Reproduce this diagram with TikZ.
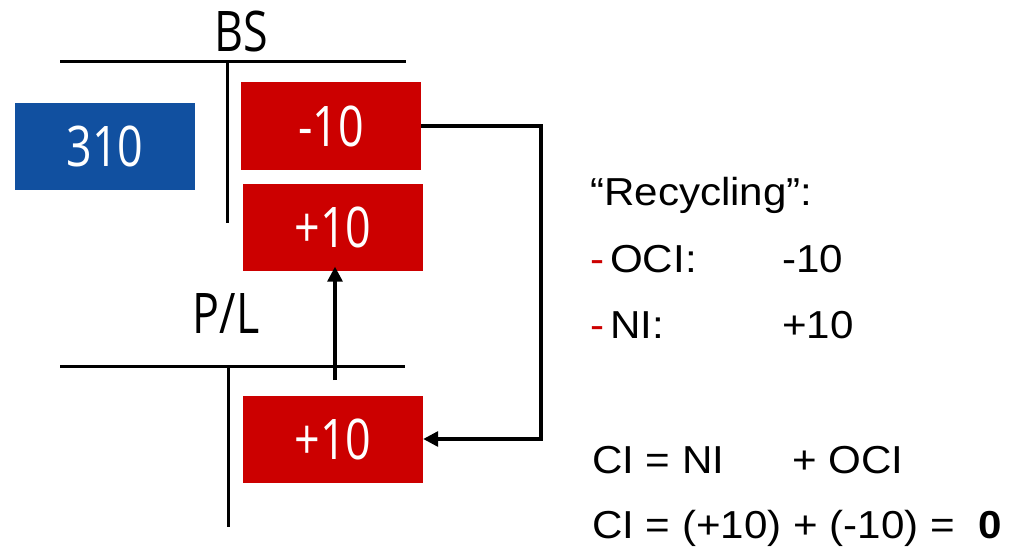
\documentclass[tikz,border=0pt]{standalone}
\usepackage{fontspec}
\setmainfont[FakeStretch=1.08]{Liberation Sans}
\newfontfamily\boxfont[FakeStretch=0.8]{Open Sans}
\usetikzlibrary{arrows.meta}
\definecolor{bsblue}{HTML}{1150A0}
\definecolor{bsred}{HTML}{CC0000}
\tikzset{
  acct/.style={line width=3pt},
  valbox/.style={minimum width=180pt, minimum height=87pt, inner sep=0pt, text=white, font=\boxfont\fontsize{56}{60}\selectfont},
  redbox/.style={valbox, fill=bsred},
  bluebox/.style={valbox, fill=bsblue},
  title/.style={font=\boxfont\fontsize{56}{60}\selectfont, anchor=base, inner sep=0pt},
  arr/.style={line width=3.2pt, -{Triangle[length=15pt,width=15pt]}},
  rtext/.style={font=\fontsize{39}{44}\selectfont, anchor=base west, inner sep=0pt},
}
\begin{document}
\begin{tikzpicture}[x=1pt,y=-1pt]
\useasboundingbox (0,0) rectangle (1012,551);
% BS account
\node[title] (bs) at (241,52) {BS};
\coordinate (bsl) at (60,62);
\coordinate (bsr) at (406,62);
\coordinate (bst) at (227,62);
\coordinate (bsb) at (227,223);
\draw[acct] (bsl) -- (bsr);
\draw[acct] (bst) -- (bsb);
\node[bluebox] (b310) at (105,146.5) {310};
\node[redbox] (m10) at (331,126) {-10};
\node[redbox] (p10) at (333,227) {+10};
% P/L account
\node[title] (pl) at (226,333) {P/L};
\coordinate (pll) at (60,366);
\coordinate (plr) at (405,366);
\coordinate (plt) at (228,366);
\coordinate (plb) at (228,527);
\draw[acct] (pll) -- (plr);
\draw[acct] (plt) -- (plb);
\node[redbox] (p10b) at (333,439) {+10};
% connectors
\coordinate (upstart) at (335,380);
\draw[arr] (upstart) -- ([yshift=4pt]p10.south -| upstart);
\coordinate (corner) at (541,126);
\draw[arr] (m10.east) -- (corner) |- (p10b.east);
% right text
\node[rtext] (rec) at (590,205) {“Recycling”:};
\node[rtext, text=bsred] (d1) at (590,272) {-};
\node[rtext] (oci) at (610,272) {OCI:};
\node[rtext] (ocv) at (782,272) {-10};
\node[rtext, text=bsred] (d2) at (590,338) {-};
\node[rtext] (ni) at (610,338) {NI:};
\node[rtext] (niv) at (782,338) {+10};
\node[rtext] (eq1) at (592,473) {CI = NI};
\node[rtext] (eq1b) at (792,473) {+ OCI};
\node[rtext] (eq2) at (592,538) {CI = (+10) + (-10) = \ \textbf{0}};
\end{tikzpicture}
\end{document}
